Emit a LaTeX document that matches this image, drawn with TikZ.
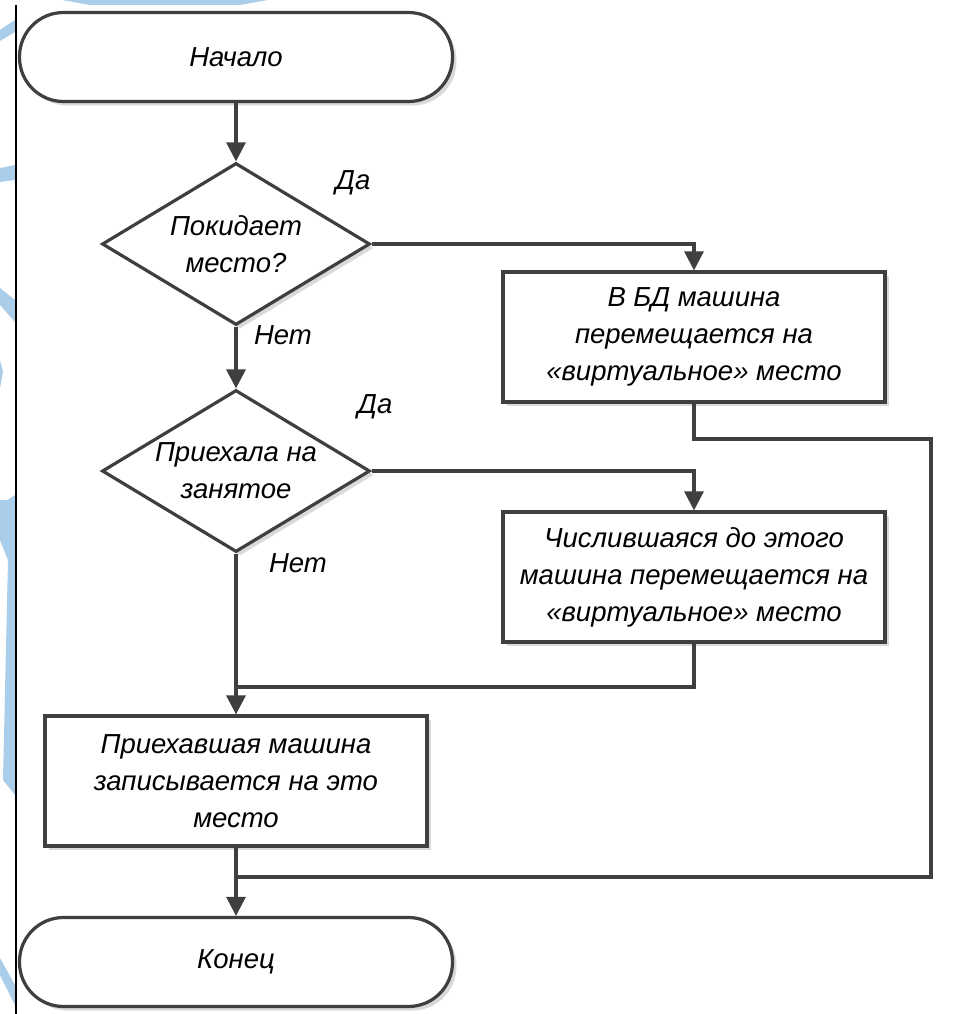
\documentclass[tikz,border=0pt]{standalone}
\usepackage{fontspec}
\setmainfont{Liberation Sans}
\usetikzlibrary{arrows.meta,shapes.geometric,shadows}
\definecolor{lineg}{HTML}{3F3F3F}
\definecolor{bgblue}{HTML}{AACDEA}
\begin{document}
\begin{tikzpicture}[x=1pt,y=-1pt,
  every node/.style={font=\itshape\fontsize{27.5}{37}\selectfont, align=center, text=black},
  flowline/.style={draw=lineg, line width=3.2pt},
  arr/.style={flowline, -{Triangle[length=19pt,width=19pt]}},
  shad/.style={drop shadow={shadow xshift=4pt, shadow yshift=-4pt, fill=black!15, opacity=1}},
  proc/.style={draw=lineg, line width=3.2pt, fill=white, minimum width=382pt, minimum height=130pt, inner sep=0pt, shad},
  term/.style={draw=lineg, line width=3.2pt, fill=white, rounded corners=44pt, minimum width=433pt, minimum height=89pt, inner sep=0pt, shad},
  dec/.style={diamond, draw=lineg, line width=3.2pt, fill=white, minimum width=268pt, minimum height=162pt, inner sep=0pt, aspect=1.654, shad},
  lab/.style={inner sep=0pt}]
\useasboundingbox (0,0) rectangle (953,1014);
% background fragments
\fill[bgblue] (62,0) -- (268,0) -- (240,5) -- (90,5) -- cycle;
\fill[bgblue] (0,30) -- (15,20) -- (15,32) -- (0,41) -- cycle;
\fill[bgblue] (0,168) -- (15,165) -- (15,180) -- (0,182) -- cycle;
\fill[bgblue] (0,288) -- (15,300) -- (15,322) -- (0,305) -- cycle;
\fill[bgblue] (0,360) -- (3,372) -- (0,388) -- cycle;
\fill[bgblue] (0,505) -- (15,495) -- (15,512) -- cycle;
\fill[bgblue] (0,500) -- (15,500) -- (15,795) -- (3,780) -- (8,560) -- (0,540) -- cycle;
\fill[bgblue] (0,958) -- (15,985) -- (15,1005) -- (0,975) -- cycle;
\draw[black, line width=2pt] (15.5,5) -- (15.5,1014);
% nodes
\node[term] (start) at (236,57) {Начало};
\node[dec, label={[lab]center:Покидает\\место?}] (d1) at (236,244) {};
\node[proc] (b1) at (694,337) {В БД машина\\перемещается на\\«виртуальное» место};
\node[dec, label={[lab]center:Приехала на\\занятое}] (d2) at (236,471) {};
\node[proc] (b2) at (694,577) {Числившаяся до этого\\машина перемещается на\\«виртуальное» место};
\node[proc] (b3) at (236,781) {Приехавшая машина\\записывается на это\\место};
\node[term] (end) at (236,962) {Конец};
\node[lab] (yes1) at (353,183) {Да};
\node[lab] (no1) at (283,335) {Нет};
\node[lab] (yes2) at (375,407) {Да};
\node[lab] (no2) at (298,563) {Нет};
\coordinate (m1) at (236,687);
\coordinate (r1) at (931,439);
\coordinate (m2) at (236,877);
% connectors
\draw[arr] (start) -- (d1);
\draw[arr] (d1.east) -| (b1.north);
\draw[arr] (d1) -- (d2);
\draw[arr] (d2.east) -| (b2.north);
\draw[arr] (d2) -- (b3);
\draw[flowline] (b2.south) |- (m1);
\draw[flowline] (b1.south) |- (r1) |- (m2);
\draw[arr] (b3) -- (end);
\end{tikzpicture}
\end{document}
